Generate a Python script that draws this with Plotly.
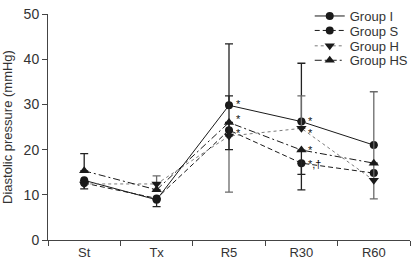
import plotly.graph_objects as go

categories = ["St", "Tx", "R5", "R30", "R60"]

group_i = [13.2, 8.9, 29.8, 26.2, 21.0]
group_s = [12.6, 9.2, 24.3, 17.0, 14.8]
group_h = [12.4, 12.4, 23.0, 24.7, 13.2]
group_hs = [15.3, 11.1, 26.0, 19.9, 17.0]

# one-sided error bars as drawn (upper / lower)
err_i_plus = [0, 0, 13.6, 12.9, 0]
err_i_minus = [1.9, 1.5, 0, 0, 0]
err_s_plus = [0, 0, 7.6, 0, 0]
err_s_minus = [0, 0, 0, 2.5, 0]
err_h_plus = [0, 1.8, 0, 7.2, 19.6]
err_h_minus = [0, 0, 12.4, 0, 4.1]
err_hs_plus = [3.8, 0, 0, 0, 0]
err_hs_minus = [0, 0, 6.0, 8.8, 0]

# significance marks: (category, y value, text)
sig_categories = ["R5", "R5", "R5", "R30", "R30", "R30", "R30"]
sig_values = [29.8, 26.0, 24.3, 26.2, 24.7, 19.9, 17.0]
sig_texts = ["*", "*", "*", "*", "*", "*", "*,†"]
# vertical pixel nudges for the marks (style only)
sig_nudge = [1, 3, -3, 1, -5, 0, -1]

FONT = "Arial, Liberation Sans, Helvetica, sans-serif"
TXT = "#333333"

fig = go.Figure()

def add_group(name, y, plus, minus, dash, symbol, msize, lcolor, ecolor, legend):
    fig.add_trace(go.Scatter(
        x=categories, y=y, name=name, mode="lines+markers", legend=legend,
        line=dict(color=lcolor, width=1, dash=dash),
        marker=dict(symbol=symbol, size=msize, color="#1a1a1a", line=dict(width=0)),
        error_y=dict(type="data", symmetric=False, array=plus, arrayminus=minus,
                     color=ecolor, thickness=1.3, width=4),
    ))

add_group("Group I", group_i, err_i_plus, err_i_minus, "solid", "circle", 8, "#1a1a1a", "#222", "legend")
add_group("Group S", group_s, err_s_plus, err_s_minus, "5px,3px", "circle", 8, "#1a1a1a", "#222", "legend2")
add_group("Group H", group_h, err_h_plus, err_h_minus, "dot", "triangle-down", 9, "#7a7a7a", "#6a6a6a", "legend3")
add_group("Group HS", group_hs, err_hs_plus, err_hs_minus, "7px,3px,2px,3px", "triangle-up", 9, "#1a1a1a", "#222", "legend4")

for cat, yv, txt, dy in zip(sig_categories, sig_values, sig_texts, sig_nudge):
    fig.add_annotation(x=cat, y=yv, text=txt, showarrow=False, xanchor="left",
                       yanchor="middle", xshift=5, yshift=dy,
                       font=dict(family=FONT, size=11, color="#111"))

def leg(yc):
    return dict(x=0.723, y=yc, xanchor="left", yanchor="middle",
                font=dict(family=FONT, size=13, color=TXT),
                bgcolor="rgba(0,0,0,0)", itemwidth=30)

fig.update_layout(
    width=415, height=261,
    margin=dict(l=48, r=1, t=5, b=21),
    paper_bgcolor="white", plot_bgcolor="white",
    font=dict(family=FONT, size=13, color=TXT),
    showlegend=True,
    legend=leg(0.991), legend2=leg(0.927), legend3=leg(0.859), legend4=leg(0.795),
    xaxis=dict(type="category", range=[-0.5, 4.5], showline=True, linecolor="#444",
               linewidth=1, ticks="outside", ticklen=5, tickcolor="#444",
               tickson="boundaries", showgrid=False, zeroline=False,
               ticklabeloverflow="allow",
               tickfont=dict(family=FONT, size=13, color=TXT)),
    yaxis=dict(range=[0, 50], dtick=10, showline=True, linecolor="#444", linewidth=1,
               ticks="outside", ticklen=5, tickcolor="#444", showgrid=False,
               zeroline=False, ticklabeloverflow="allow",
               tickfont=dict(family=FONT, size=14, color=TXT),
               title=dict(text="Diastolic pressure (mmHg)", standoff=8,
                          font=dict(family=FONT, size=13, color=TXT))),
)

fig.write_html("out.html", config={"displayModeBar": False},
               post_script="document.body.style.margin='0px';")
